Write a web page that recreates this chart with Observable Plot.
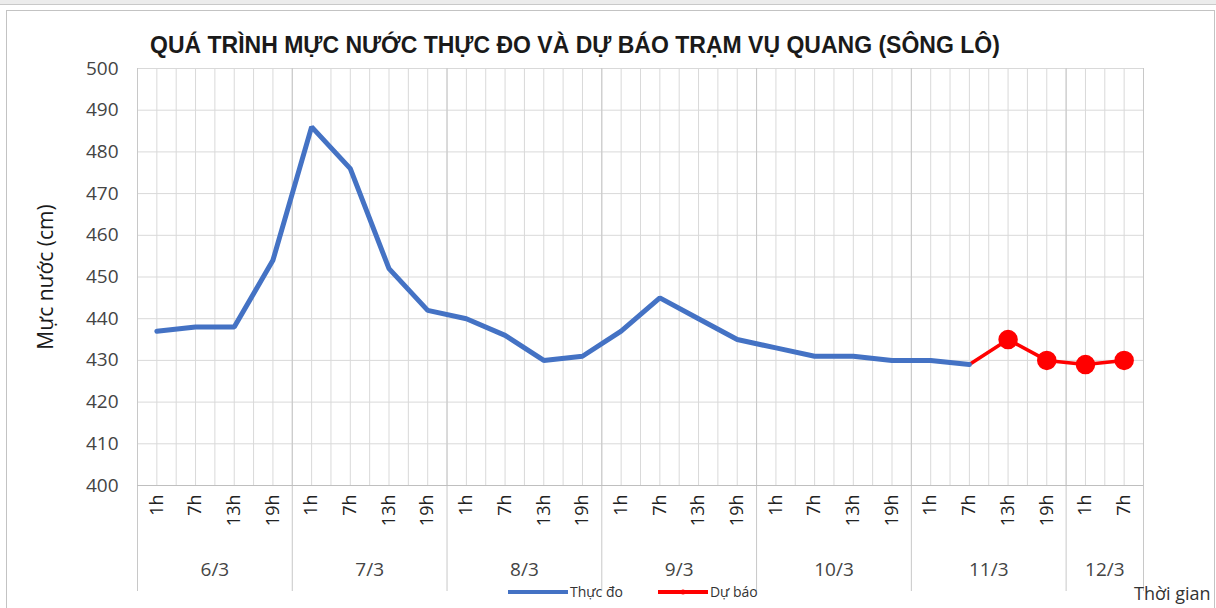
<!DOCTYPE html>
<html><head><meta charset="utf-8">
<script src="https://cdn.jsdelivr.net/npm/d3@7"></script>
<script src="https://cdn.jsdelivr.net/npm/@observablehq/plot@0.6"></script>
<style>
body{margin:0;background:#fff;}
#wrap{position:relative;width:1216px;height:608px;overflow:hidden;font-family:"Open Sans",sans-serif;background:#fff;}
#topbar{position:absolute;left:0;top:0;width:1216px;height:4px;background:#ececec;border-bottom:1px solid #c9c9c9;}
#frame{position:absolute;left:6px;top:10px;width:1209px;height:610px;border:1px solid #c3c3c3;box-sizing:border-box;}
#chart{position:absolute;left:0;top:0;}
#title{position:absolute;left:150px;top:32px;font-family:"Liberation Sans Narrow","Liberation Sans",sans-serif;font-weight:bold;font-size:23px;color:#1a1a1a;white-space:nowrap;}
#ylabel{position:absolute;left:45px;top:277px;transform:translate(-50%,-50%) rotate(-90deg);font-size:21px;color:#1a1a1a;white-space:nowrap;}
#xlabel{position:absolute;left:1134px;top:581px;font-size:18px;color:#333;white-space:nowrap;}
#legend{position:absolute;left:508px;top:582px;font-size:14px;color:#333;display:flex;align-items:center;white-space:nowrap;}
#legend span.item{display:inline-flex;align-items:center;margin-right:35px;}
</style>
</head><body>
<div id="wrap">
  <div id="topbar"></div>
  <div id="frame"></div>
  <div id="chart"></div>
  <div id="title"></div>
  <div id="ylabel"></div>
  <div id="xlabel"></div>
  <div id="legend"></div>
</div>
<script>
// ---- data ----
const titleText = "QUÁ TRÌNH MỰC NƯỚC THỰC ĐO VÀ DỰ BÁO TRẠM VỤ QUANG (SÔNG LÔ)";
const yLabelText = "Mực nước (cm)";
const xLabelText = "Thời gian";
const seriesNames = ["Thực đo", "Dự báo"];
const seriesColors = ["#4472C4", "#FF0000"];
const days = ["6/3", "7/3", "8/3", "9/3", "10/3", "11/3", "12/3"];
const slotDays = ["6/3","6/3","6/3","6/3","7/3","7/3","7/3","7/3","8/3","8/3","8/3","8/3",
  "9/3","9/3","9/3","9/3","10/3","10/3","10/3","10/3","11/3","11/3","11/3","11/3","12/3","12/3"];
const slotHours = ["1h","7h","13h","19h","1h","7h","13h","19h","1h","7h","13h","19h",
  "1h","7h","13h","19h","1h","7h","13h","19h","1h","7h","13h","19h","1h","7h"];
const observed = [437,438,438,454, 486,476,452,442, 440,436,430,431, 437,445,440,435,
  433,431,431,430, 430,429, null,null,null,null];
const forecast = [null,null,null,null,null,null,null,null,null,null,null,null,null,null,null,null,
  null,null,null,null,null, 429,435,430,429,430];
const yTicks = [400,410,420,430,440,450,460,470,480,490,500];

// ---- derived tables ----
const obsData = observed.map((v,i)=>({i, v})).filter(d=>d.v!=null);
const fcData = forecast.map((v,i)=>({i, v})).filter(d=>d.v!=null);
const fcMarkers = fcData.slice(1);
const dayStart = days.map(d => slotDays.indexOf(d));
const dayCount = days.map(d => slotDays.filter(s=>s===d).length);
const dayCenters = days.map((d,k)=>dayStart[k] + dayCount[k]/2);
const dayBounds = [...dayStart, slotDays.length];
const slotCenters = slotDays.map((_,i)=>i+0.5);
const halfGrid = d3.range(0, slotDays.length*2+1).map(k=>k/2);

const plot = Plot.plot({
  width: 1216, height: 608,
  marginLeft: 137, marginRight: 73, marginTop: 68, marginBottom: 123,
  style: {fontFamily: "'Open Sans', sans-serif", background: "transparent", color: "#333"},
  x: {type: "linear", domain: [0, slotDays.length], axis: null, label: null},
  y: {domain: [400, 500], axis: null, label: null},
  marks: [
    Plot.ruleX(halfGrid, {stroke: "#d9d9d9", strokeWidth: 1}),
    Plot.ruleY(yTicks, {stroke: "#d9d9d9", strokeWidth: 1}),
    Plot.ruleX(dayBounds, {stroke: "#c8c8c8", strokeWidth: 1, insetBottom: -106}),
    Plot.ruleY([400], {stroke: "#bfbfbf", strokeWidth: 1}),
    Plot.axisY(yTicks, {label: null, tickSize: 0, tickPadding: 19, fontSize: 19, fill: "#444"}),
    Plot.axisX(slotCenters, {label: null, tickSize: 0, tickPadding: 9, tickRotate: -90, fontSize: 18, fill: "#222",
      tickFormat: v => slotHours[Math.floor(v)]}),
    Plot.axisX(dayCenters, {label: null, tickSize: 0, tickPadding: 77, fontSize: 19, fill: "#444",
      tickFormat: v => days[dayCenters.indexOf(v)]}),
    Plot.line(fcData, {x: d=>d.i+0.5, y: "v", stroke: seriesColors[1], strokeWidth: 3.5}),
    Plot.line(obsData, {x: d=>d.i+0.5, y: "v", stroke: seriesColors[0], strokeWidth: 5, strokeLinejoin: "miter"}),
    Plot.dot(fcMarkers, {x: d=>d.i+0.5, y: "v", r: 9, fill: seriesColors[1], stroke: seriesColors[1]})
  ]
});
document.getElementById("chart").appendChild(plot);

document.getElementById("title").textContent = titleText;
document.getElementById("ylabel").textContent = yLabelText;
document.getElementById("xlabel").textContent = xLabelText;

const legend = document.getElementById("legend");
seriesNames.forEach((name,k)=>{
  const item = document.createElement("span");
  item.className = "item";
  const marker = k===1 ? `<circle cx="25" cy="6" r="2.5" fill="${seriesColors[k]}"/>` : "";
  item.innerHTML = `<svg width="${k===0?60:50}" height="12"><line x1="0" x2="${k===0?60:50}" y1="6" y2="6" stroke="${seriesColors[k]}" stroke-width="4"/>${marker}</svg><span style="margin-left:2px">${name}</span>`;
  legend.appendChild(item);
});
</script>
</body></html>
